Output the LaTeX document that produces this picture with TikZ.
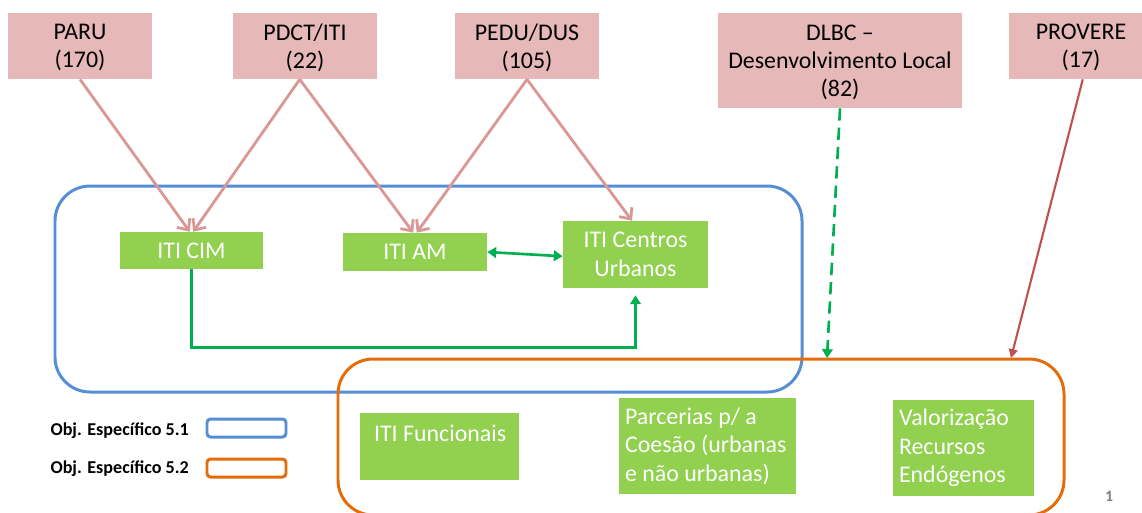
\documentclass[tikz,border=0pt]{standalone}
\usepackage{fontspec}
\setmainfont{Carlito}
\usetikzlibrary{arrows.meta}
\definecolor{boxpink}{HTML}{E6B9B8}
\definecolor{arrowpink}{HTML}{D99795}
\definecolor{boxgreen}{HTML}{92D050}
\definecolor{linkgreen}{HTML}{00B050}
\definecolor{objblue}{HTML}{558ED5}
\definecolor{objorange}{HTML}{E46C0A}
\definecolor{provred}{HTML}{C0504D}
\begin{document}
\begin{tikzpicture}[x=0.02cm, y=-0.02cm,
            source/.style={fill=boxpink, inner sep=0pt, align=center,
                minimum width=2.9cm, minimum height=1.32cm, text depth=0pt,
                font=\fontsize{13.6}{16}\selectfont},
            iti/.style={fill=boxgreen, inner sep=0pt, text=white,
                font=\fontsize{13.6}{16.2}\selectfont},
            feed/.style={draw=arrowpink, line width=1.6pt,
                -{Straight Barb[length=5pt, width=9pt]}},
            link/.style={draw=linkgreen, line width=1.5pt,
                -{Triangle[length=5pt, width=6pt]}},
            objective/.style={line width=1.7pt, rounded corners=0.7cm},
            legendbox/.style={line width=1.7pt, rounded corners=2pt}]
            \useasboundingbox (0,0) rectangle (1142,512);

            \draw[objective, objblue] (55,186) rectangle (802,392);
            \draw[objective, objorange] (338,359) rectangle (1064,515);

            \node[source] (paru) at (80,46) {PARU\\(170)};
            \node[source] (pdct) at (305,46) {PDCT/ITI\\(22)};
            \node[source] (pedu) at (527,46) {PEDU/DUS\\(105)};
            \node[source, minimum width=4.88cm, minimum height=1.9cm]
                (dlbc) at (840,60.5) {DLBC --\\Desenvolvimento Local\\(82)};
            \node[source] (provere) at (1081,46) {PROVERE\\(17)};

            \node[iti, align=center, minimum width=2.86cm, minimum height=0.74cm]
                (cim) at (191.5,250.5) {ITI CIM};
            \node[iti, align=center, minimum width=2.88cm, minimum height=0.76cm]
                (am) at (415,252) {ITI AM};
            \node[iti, align=center, minimum width=2.9cm, minimum height=1.34cm]
                (centros) at (635.5,254.5) {ITI Centros\\Urbanos};

            \node[iti, minimum width=3.18cm, minimum height=1.34cm,
                label={[anchor=north west, text=white, inner sep=0pt,
                    font=\fontsize{13.6}{16.2}\selectfont, xshift=8pt, yshift=-7pt]
                    north west:ITI Funcionais}]
                (funcionais) at (439.5,446.5) {};
            \node[iti, align=flush left, text width=3.3cm, minimum height=1.92cm,
                inner xsep=0.12cm]
                (parcerias) at (707.5,446) {Parcerias p/ a\\Coesão (urbanas\\e não urbanas)};
            \node[iti, align=flush left, text width=2.58cm, minimum height=1.92cm,
                inner xsep=0.12cm]
                (valorizacao) at (963.5,448) {Valorização\\Recursos\\Endógenos};

            \draw[feed] (paru.south) -- ([xshift=-1pt]cim.north);
            \draw[feed] ([xshift=-3pt]pdct.south) -- ([xshift=1pt]cim.north);
            \draw[feed] ([xshift=-3pt]pdct.south) -- ([xshift=-1pt]am.north);
            \draw[feed] (pedu.south) -- ([xshift=1pt]am.north);
            \draw[feed] (pedu.south) -- ([xshift=-2pt]centros.north);

            \draw[link, {Triangle[length=5pt, width=6pt]}-{Triangle[length=5pt, width=6pt]}]
                (am.east) -- ([yshift=-1pt]centros.west);
            \draw[link] (cim.south) -- ++(0,78) -| ([yshift=-4pt]centros.south);

            \coordinate (dlbcend) at (827,358);
            \coordinate (provereend) at (1011,358);
            \draw[link, dashed, dash pattern=on 7pt off 4pt] (dlbc.south) -- (dlbcend);
            \draw[draw=provred, line width=1.2pt, -{Triangle[length=5pt, width=5pt]}]
                ([xshift=1pt]provere.south) -- (provereend);

            \node[anchor=east, font=\fontsize{10.3}{12}\selectfont\bfseries]
                (obj51) at (195,431) {Obj. Específico 5.1};
            \node[anchor=east, font=\fontsize{10.3}{12}\selectfont\bfseries]
                (obj52) at (195,469) {Obj. Específico 5.2};
            \draw[legendbox, objblue] (207,419) rectangle (286,437);
            \draw[legendbox, objorange] (207,459) rectangle (286,477);

            \node[text=gray, font=\fontsize{9}{11}\selectfont\bfseries] (pagenum) at (1109,496) {1};
        \end{tikzpicture}
\end{document}
